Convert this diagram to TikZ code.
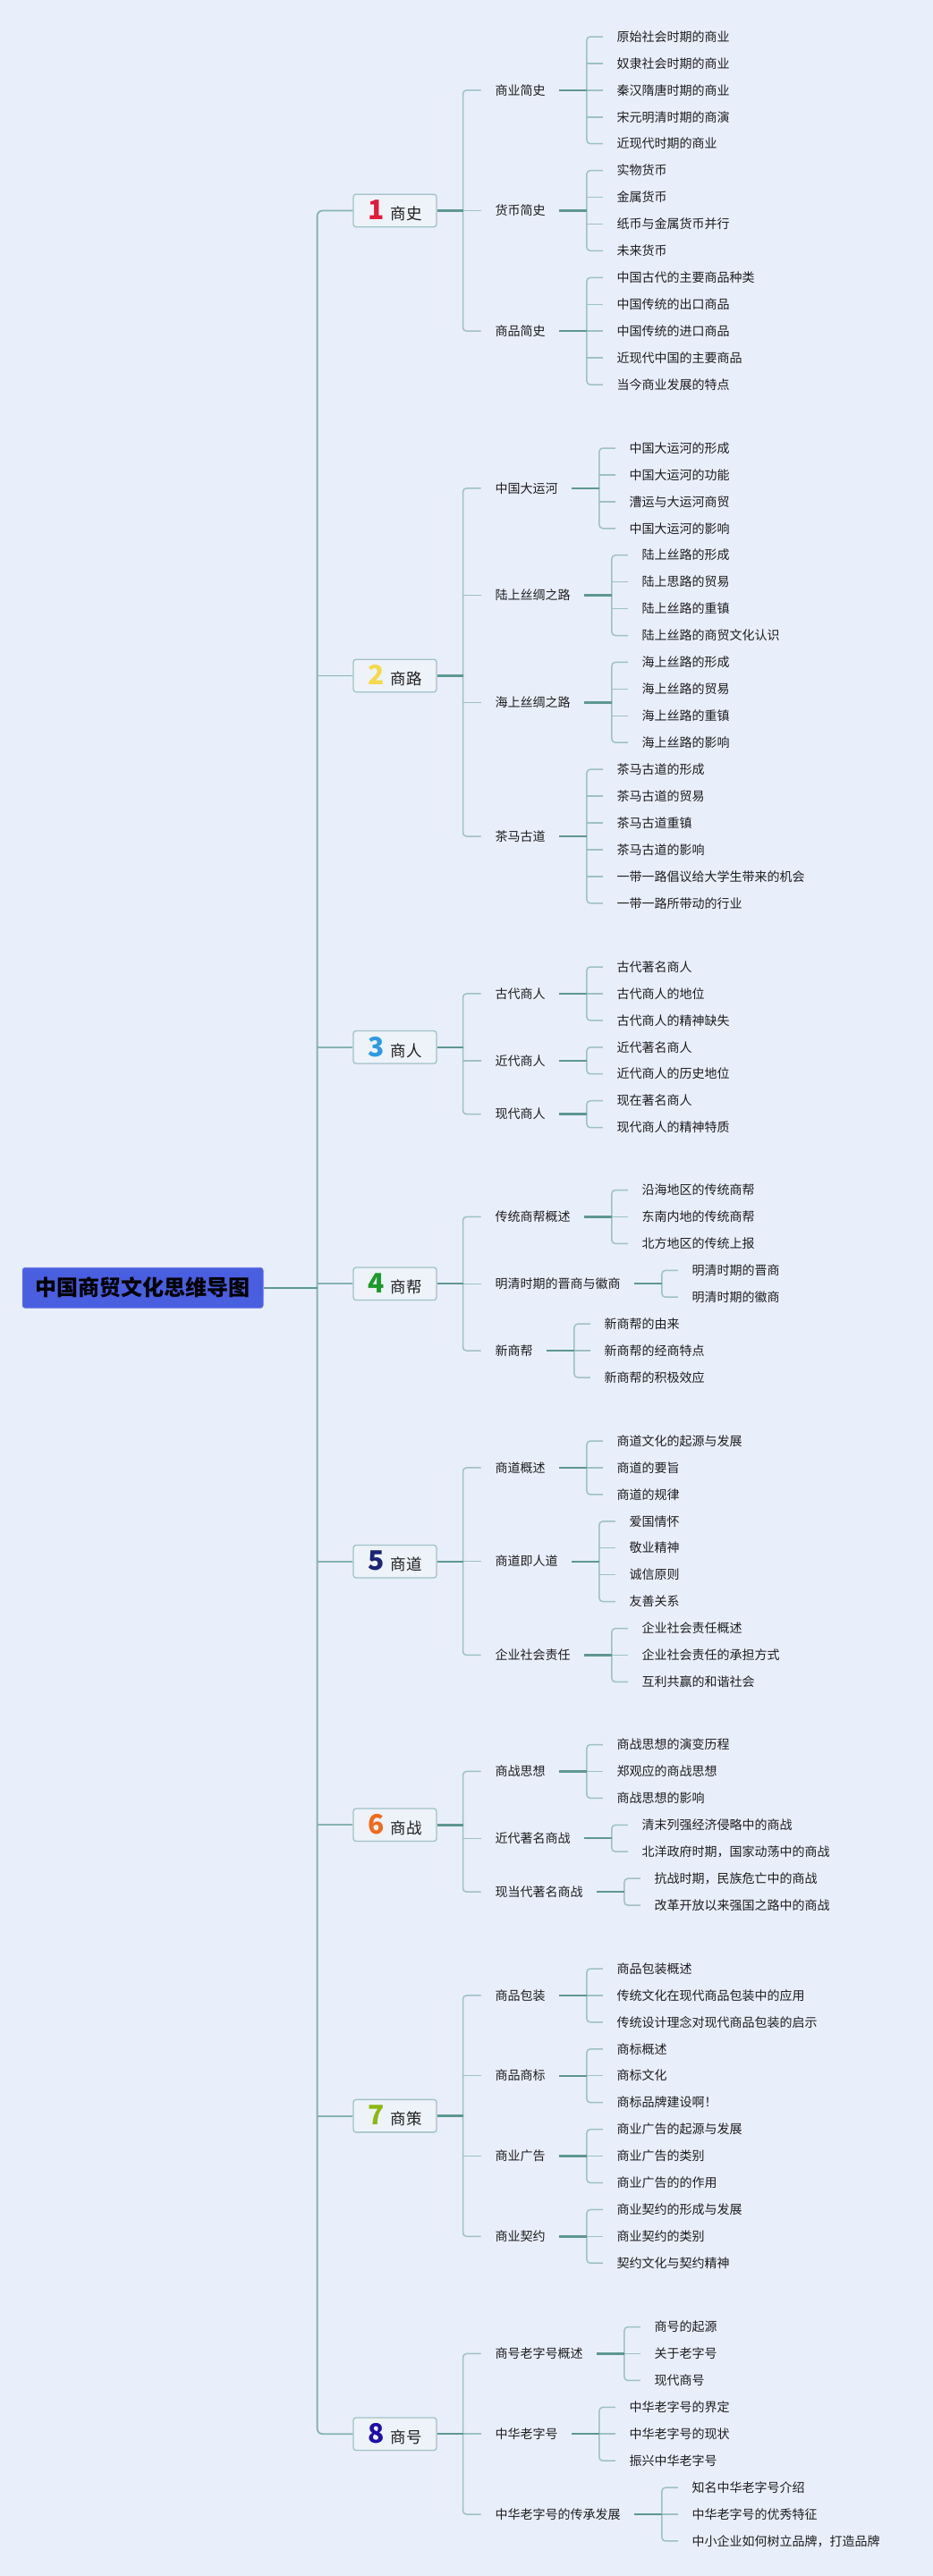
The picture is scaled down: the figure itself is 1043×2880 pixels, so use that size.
\documentclass[tikz,border=0pt]{standalone}
\usepackage{fontspec}
\setmainfont{Noto Sans CJK SC}
\usetikzlibrary{calc}
\definecolor{bg}{HTML}{E9EEFB}
\definecolor{boxfill}{HTML}{EEF3F9}
\definecolor{boxline}{HTML}{9FC2C6}
\definecolor{brline}{HTML}{9DC1C4}
\definecolor{connline}{HTML}{5E9793}
\definecolor{trunkline}{HTML}{86B3B4}
\definecolor{txt}{HTML}{1E1E1E}
\definecolor{rootblue}{HTML}{4A5EE0}
\definecolor{d1}{HTML}{E01B3C}
\definecolor{d2}{HTML}{F5D94A}
\definecolor{d3}{HTML}{2D9BE3}
\definecolor{d4}{HTML}{1E9A2A}
\definecolor{d5}{HTML}{1C2578}
\definecolor{d6}{HTML}{F26A1B}
\definecolor{d7}{HTML}{8DB80F}
\definecolor{d8}{HTML}{1E0FA8}
\tikzset{
  leaf/.style={anchor=west, inner sep=0pt, font=\fontsize{14}{16}\selectfont, text=txt, text height=11.5pt, text depth=1pt},
  subnode/.style={leaf},
  topbox/.style={draw=boxline, line width=1.3pt, fill=boxfill, rounded corners=3pt, minimum width=93pt, minimum height=36.5pt, inner sep=0pt, font=\fontsize{17.5}{20}\selectfont, text=txt},
  rootbox/.style={fill=rootblue, draw=rootblue!85!white, line width=0.8pt, rounded corners=3pt, minimum width=269pt, minimum height=45pt, inner sep=0pt, font=\fontsize{24}{26}\selectfont\bfseries, text=black, text height=19.5pt, text depth=1.5pt},
  br/.style={draw=brline, line width=1.5pt},
  conn/.style={draw=connline, line width=2.4pt},
  trunk/.style={draw=trunkline, line width=1.8pt},
}
\newcommand\dg[2]{{\fontsize{30}{30}\selectfont\bfseries\color{#1}#2}\hspace{7pt}}
\newcommand\subs[3]{%
  \foreach \yy/\lbl [count=\i] in {#3} {
    \node[subnode] (#1-\i) at (553.5,\yy) {\lbl};
  }
  \coordinate (#1-v) at ([xshift=-36pt]#1-1.west);
  \draw[br, rounded corners=4pt] ([xshift=-16pt]#1-1.west) -- (#1-v) |- ([xshift=-16pt]#1-#2.west);
  \foreach \i in {1,...,#2}{\ifnum\i>1\relax\ifnum\i<#2\relax
    \draw[br] ([xshift=-16pt]#1-\i.west) -- (#1-\i.west -| #1-v);
  \fi\fi}
  \draw[conn] (#1.east) -- (#1.east -| #1-v);
}
\newcommand\leaves[3]{%
  \coordinate (#1-x) at ($(#1.east)+(79.5,0)$);
  \foreach \yy/\lbl [count=\i] in {#3} {
    \node[leaf] (#1-\i) at ($(#1-x |- O)+(0,\yy)$) {\lbl};
  }
  \coordinate (#1-v) at ([xshift=-33.5pt]#1-1.west);
  \draw[br, rounded corners=4pt] ([xshift=-15.5pt]#1-1.west) -- (#1-v) |- ([xshift=-15.5pt]#1-#2.west);
  \foreach \i in {1,...,#2}{\ifnum\i>1\relax\ifnum\i<#2\relax
    \draw[br] ([xshift=-15.5pt]#1-\i.west) -- (#1-\i.west -| #1-v);
  \fi\fi}
  \draw[conn] ([xshift=15pt]#1.east) -- (#1.east -| #1-v);
}
\begin{document}
\begin{tikzpicture}[x=1pt,y=-1pt]
\useasboundingbox (0,0) rectangle (1043,2880);
\fill[bg] (0,0) rectangle (1043,2880);
\coordinate (O) at (0,0);
\coordinate (tr) at (354.6,0);

\node[rootbox] (root) at (159.65,1439.8) {中国商贸文化思维导图};

\node[topbox] (b1) at (441.5,235.5) {\dg{d1}{1}商史};
\node[topbox] (b2) at (441.5,755.4) {\dg{d2}{2}商路};
\node[topbox] (b3) at (441.5,1170.8) {\dg{d3}{3}商人};
\node[topbox] (b4) at (441.5,1435.25) {\dg{d4}{4}商帮};
\node[topbox] (b5) at (441.5,1745.7) {\dg{d5}{5}商道};
\node[topbox] (b6) at (441.5,2040.3) {\dg{d6}{6}商战};
\node[topbox] (b7) at (441.5,2365.6) {\dg{d7}{7}商策};
\node[topbox] (b8) at (441.5,2721.2) {\dg{d8}{8}商号};

\draw[trunk, rounded corners=6pt] (b1.west) -- (b1.west -| tr) -- (b8.west -| tr) -- (b8.west);
\foreach \b in {b2,b3,b4,b5,b6,b7}{\draw[trunk] (\b.west) -- (\b.west -| tr);}
\draw[conn] (root.east) -- (root.east -| tr);

% 1
\subs{b1}{3}{100.9/商业简史, 235.5/货币简史, 370.2/商品简史}
\leaves{b1-1}{5}{41.0/原始社会时期的商业, 70.9/奴隶社会时期的商业, 100.9/秦汉隋唐时期的商业, 130.8/宋元明清时期的商演, 160.7/近现代时期的商业}
\leaves{b1-2}{4}{190.7/实物货币, 220.6/金属货币, 250.5/纸币与金属货币并行, 280.4/未来货币}
\leaves{b1-3}{5}{310.4/中国古代的主要商品种类, 340.3/中国传统的出口商品, 370.2/中国传统的进口商品, 400.2/近现代中国的主要商品, 430.1/当今商业发展的特点}
% 2
\subs{b2}{4}{545.9/中国大运河, 665.6/陆上丝绸之路, 785.3/海上丝绸之路, 935.0/茶马古道}
\leaves{b2-1}{4}{501.0/中国大运河的形成, 530.9/中国大运河的功能, 560.9/漕运与大运河商贸, 590.8/中国大运河的影响}
\leaves{b2-2}{4}{620.7/陆上丝路的形成, 650.7/陆上思路的贸易, 680.6/陆上丝路的重镇, 710.5/陆上丝路的商贸文化认识}
\leaves{b2-3}{4}{740.4/海上丝路的形成, 770.4/海上丝路的贸易, 800.3/海上丝路的重镇, 830.2/海上丝路的影响}
\leaves{b2-4}{6}{860.2/茶马古道的形成, 890.1/茶马古道的贸易, 920.0/茶马古道重镇, 949.9/茶马古道的影响, 979.9/一带一路倡议给大学生带来的机会, 1009.8/一带一路所带动的行业}
% 3
\subs{b3}{3}{1110.9/古代商人, 1185.75/近代商人, 1245.65/现代商人}
\leaves{b3-1}{3}{1081.0/古代著名商人, 1110.9/古代商人的地位, 1140.9/古代商人的精神缺失}
\leaves{b3-2}{2}{1170.8/近代著名商人, 1200.7/近代商人的历史地位}
\leaves{b3-3}{2}{1230.7/现在著名商人, 1260.6/现代商人的精神特质}
% 4
\subs{b4}{3}{1360.4/传统商帮概述, 1435.25/明清时期的晋商与徽商, 1510.1/新商帮}
\leaves{b4-1}{3}{1330.5/沿海地区的传统商帮, 1360.4/东南内地的传统商帮, 1390.4/北方地区的传统上报}
\leaves{b4-2}{2}{1420.3/明清时期的晋商, 1450.2/明清时期的徽商}
\leaves{b4-3}{3}{1480.2/新商帮的由来, 1510.1/新商帮的经商特点, 1540.0/新商帮的积极效应}
% 5
\subs{b5}{3}{1640.9/商道概述, 1745.7/商道即人道, 1850.4/企业社会责任}
\leaves{b5-1}{3}{1611.0/商道文化的起源与发展, 1640.9/商道的要旨, 1670.9/商道的规律}
\leaves{b5-2}{4}{1700.8/爱国情怀, 1730.7/敬业精神, 1760.7/诚信原则, 1790.6/友善关系}
\leaves{b5-3}{3}{1820.5/企业社会责任概述, 1850.4/企业社会责任的承担方式, 1880.4/互利共赢的和谐社会}
% 6
\subs{b6}{3}{1980.4/商战思想, 2055.25/近代著名商战, 2115.15/现当代著名商战}
\leaves{b6-1}{3}{1950.5/商战思想的演变历程, 1980.4/郑观应的商战思想, 2010.4/商战思想的影响}
\leaves{b6-2}{2}{2040.3/清末列强经济侵略中的商战, 2070.2/北洋政府时期，国家动荡中的商战}
\leaves{b6-3}{2}{2100.2/抗战时期，民族危亡中的商战, 2130.1/改革开放以来强国之路中的商战}
% 7
\subs{b7}{4}{2230.9/商品包装, 2320.7/商品商标, 2410.5/商业广告, 2500.3/商业契约}
\leaves{b7-1}{3}{2201.0/商品包装概述, 2230.9/传统文化在现代商品包装中的应用, 2260.9/传统设计理念对现代商品包装的启示}
\leaves{b7-2}{3}{2290.8/商标概述, 2320.7/商标文化, 2350.7/商标品牌建设啊！}
\leaves{b7-3}{3}{2380.6/商业广告的起源与发展, 2410.5/商业广告的类别, 2440.4/商业广告的的作用}
\leaves{b7-4}{3}{2470.4/商业契约的形成与发展, 2500.3/商业契约的类别, 2530.2/契约文化与契约精神}
% 8
\subs{b8}{3}{2631.4/商号老字号概述, 2721.2/中华老字号, 2811.0/中华老字号的传承发展}
\leaves{b8-1}{3}{2601.5/商号的起源, 2631.4/关于老字号, 2661.4/现代商号}
\leaves{b8-2}{3}{2691.3/中华老字号的界定, 2721.2/中华老字号的现状, 2751.2/振兴中华老字号}
\leaves{b8-3}{3}{2781.1/知名中华老字号介绍, 2811.0/中华老字号的优秀特征, 2840.9/中小企业如何树立品牌，打造品牌}
\end{tikzpicture}
\end{document}
